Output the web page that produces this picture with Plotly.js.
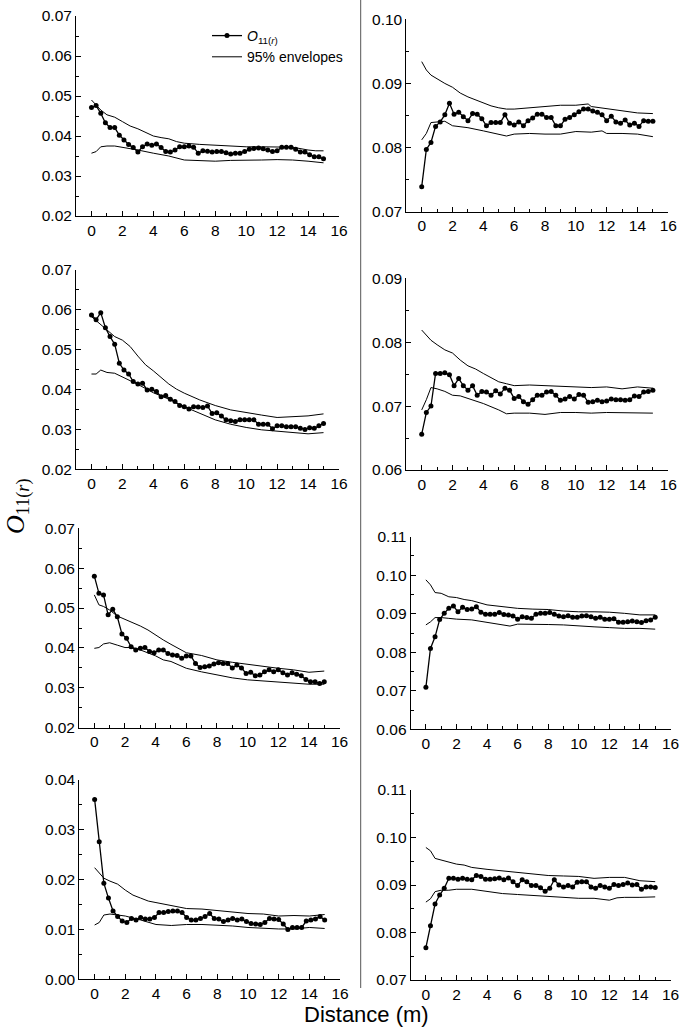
<!DOCTYPE html>
<html>
<head>
<meta charset="utf-8">
<script src="https://cdn.plot.ly/plotly-3.0.1.min.js"></script>
<style>
  html, body { margin: 0; padding: 0; background: #fff; }
  #chart { width: 680px; height: 1030px; }
</style>
</head>
<body>
<div id="chart"></div>
<script>
// ---------------- DATA ----------------
const distance = [0, 0.3, 0.6, 0.9, 1.2, 1.5, 1.8, 2.1, 2.4, 2.7, 3.0, 3.3, 3.6, 3.9, 4.2, 4.5, 4.8, 5.1, 5.4, 5.7,
  6.0, 6.3, 6.6, 6.9, 7.2, 7.5, 7.8, 8.1, 8.4, 8.7, 9.0, 9.3, 9.6, 9.9, 10.2, 10.5, 10.8, 11.1, 11.4, 11.7,
  12.0, 12.3, 12.6, 12.9, 13.2, 13.5, 13.8, 14.1, 14.4, 14.7, 15.0];

const xTickVals = [0, 2, 4, 6, 8, 10, 12, 14, 16];
const seriesName = '<i>O</i><sub>11(<i>r</i>)</sub>';
const envelopeName = '95% envelopes';

// Panel a (row 1, left)
const o11_a = [0.0471,0.0476,0.0457,0.0433,0.0421,0.0421,0.0402,0.0390,0.0379,0.0371,0.0360,0.0373,0.0380,0.0377,0.0380,0.0371,0.0361,0.0360,0.0365,0.0373,0.0373,0.0375,0.0372,0.0357,0.0363,0.0362,0.0360,0.0361,0.0361,0.0358,0.0355,0.0357,0.0357,0.0361,0.0367,0.0369,0.0370,0.0368,0.0365,0.0361,0.0363,0.0372,0.0372,0.0372,0.0367,0.0360,0.0360,0.0353,0.0348,0.0348,0.0343];
const upX_a = [0,0.6,1,1.5,2,2.5,3,3.5,4,4.5,5,5.5,6,7,8,9,10,11,12,13,14,14.5,15];
const up_a  = [0.0490,0.0465,0.0453,0.0447,0.0436,0.0425,0.0418,0.0410,0.0400,0.0396,0.0393,0.0386,0.0382,0.0379,0.0377,0.0376,0.0373,0.0373,0.0373,0.0372,0.0365,0.0363,0.0363];
const loX_a = [0,0.3,0.6,1,1.5,2,3,4,5,6,7,8,9,10,11,12,13,14,15];
const lo_a  = [0.0357,0.0361,0.0373,0.0375,0.0375,0.0372,0.0365,0.0357,0.0350,0.0340,0.0338,0.0337,0.0339,0.0339,0.0340,0.0341,0.0340,0.0337,0.0333];

// Panel b (row 1, right)
const o11_b = [0.0739,0.0797,0.0808,0.0833,0.0840,0.0851,0.0869,0.0852,0.0855,0.0848,0.0842,0.0853,0.0852,0.0845,0.0834,0.0839,0.0839,0.0839,0.0851,0.0838,0.0835,0.0840,0.0834,0.0842,0.0846,0.0852,0.0852,0.0847,0.0847,0.0834,0.0834,0.0844,0.0847,0.0851,0.0856,0.0860,0.0860,0.0857,0.0855,0.0851,0.0842,0.0849,0.0840,0.0838,0.0843,0.0835,0.0838,0.0833,0.0842,0.0841,0.0841];
const upX_b = [0,0.3,0.6,1,1.5,2,2.5,3,3.5,4,4.5,5,5.5,6,7,8,9,10,10.8,11,12,13,14,15];
const up_b  = [0.0934,0.0921,0.0913,0.0907,0.0900,0.0894,0.0885,0.0879,0.0874,0.0870,0.0865,0.0862,0.0860,0.0860,0.0862,0.0864,0.0866,0.0866,0.0868,0.0864,0.0861,0.0857,0.0854,0.0853];
const loX_b = [0,0.3,0.6,1,1.5,2,2.5,3,4,5,5.5,6,7,8,9,10,11,11.7,12,13,14,15];
const lo_b  = [0.0812,0.0822,0.0839,0.0840,0.0841,0.0834,0.0833,0.0831,0.0826,0.0821,0.0818,0.0821,0.0822,0.0821,0.0821,0.0825,0.0824,0.0826,0.0822,0.0822,0.0821,0.0817];

// Panel c (row 2, left)
const o11_c = [0.0587,0.0575,0.0593,0.0555,0.0533,0.0514,0.0466,0.0449,0.0439,0.0420,0.0414,0.0416,0.0399,0.0401,0.0395,0.0382,0.0385,0.0376,0.0370,0.0360,0.0357,0.0351,0.0357,0.0356,0.0355,0.0359,0.0340,0.0342,0.0334,0.0324,0.0322,0.0320,0.0324,0.0324,0.0324,0.0324,0.0313,0.0313,0.0313,0.0302,0.0309,0.0309,0.0307,0.0307,0.0307,0.0303,0.0300,0.0304,0.0303,0.0309,0.0315];
const upX_c = [0,0.5,1,1.5,2,2.5,3,3.5,4,4.5,5,5.5,6,7,8,9,10,11,12,13,14,15];
const up_c  = [0.0583,0.0566,0.0549,0.0533,0.0524,0.0508,0.0484,0.0462,0.0447,0.0431,0.0414,0.0401,0.0391,0.0374,0.0360,0.0349,0.0342,0.0336,0.0330,0.0332,0.0334,0.0339];
const loX_c = [0,0.3,0.6,1,1.5,2,2.5,3,4,5,6,7,8,9,10,11,12,13,14,15];
const lo_c  = [0.0439,0.0439,0.0449,0.0443,0.0441,0.0432,0.0424,0.0413,0.0392,0.0376,0.0357,0.0340,0.0324,0.0313,0.0305,0.0299,0.0296,0.0292,0.0289,0.0292];

// Panel d (row 2, right)
const o11_d = [0.0656,0.0690,0.0700,0.0751,0.0751,0.0752,0.0749,0.0732,0.0743,0.0732,0.0725,0.0732,0.0717,0.0723,0.0722,0.0717,0.0724,0.0719,0.0728,0.0725,0.0712,0.0715,0.0707,0.0703,0.0710,0.0717,0.0717,0.0722,0.0723,0.0717,0.0709,0.0711,0.0715,0.0711,0.0718,0.0717,0.0706,0.0707,0.0709,0.0707,0.0708,0.0711,0.0710,0.0710,0.0709,0.0710,0.0716,0.0715,0.0722,0.0723,0.0725];
const upX_d = [0,0.3,0.6,1,1.5,2,2.5,3,3.5,4,4.5,5,5.5,6,7,8,9,10,11,12,13,14,15];
const up_d  = [0.0819,0.0811,0.0803,0.0796,0.0788,0.0783,0.0772,0.0763,0.0758,0.0751,0.0745,0.0738,0.0735,0.0732,0.0733,0.0732,0.0731,0.0730,0.0729,0.0730,0.0727,0.0730,0.0728];
const loX_d = [0,0.3,0.6,1,1.5,2,2.5,3,4,5,5.5,6,7,8,9,10,11,12,13,14,15];
const lo_d  = [0.0694,0.0710,0.0729,0.0727,0.0723,0.0717,0.0716,0.0712,0.0704,0.0694,0.0688,0.0689,0.0689,0.0687,0.0690,0.0690,0.0689,0.0690,0.0690,0.0690,0.0689];

// Panel e (row 3, left)
const o11_e = [0.0580,0.0537,0.0533,0.0483,0.0497,0.0478,0.0435,0.0424,0.0403,0.0395,0.0399,0.0401,0.0391,0.0388,0.0395,0.0395,0.0386,0.0382,0.0381,0.0374,0.0380,0.0380,0.0361,0.0351,0.0353,0.0355,0.0360,0.0363,0.0361,0.0361,0.0350,0.0357,0.0350,0.0336,0.0339,0.0330,0.0332,0.0340,0.0345,0.0340,0.0345,0.0338,0.0332,0.0338,0.0334,0.0330,0.0321,0.0315,0.0315,0.0311,0.0315];
const upX_e = [0,0.3,0.6,1,1.5,2,2.5,3,3.5,4,4.5,5,5.5,6,7,8,9,10,11,12,13,14,15];
const up_e  = [0.0533,0.0508,0.0504,0.0495,0.0480,0.0472,0.0462,0.0455,0.0445,0.0432,0.0420,0.0409,0.0399,0.0388,0.0381,0.0370,0.0364,0.0359,0.0353,0.0349,0.0345,0.0339,0.0342];
const loX_e = [0,0.3,0.6,1,1.5,2,2.5,3,4,4.5,5,6,7,8,9,10,11,12,13,14,15];
const lo_e  = [0.0399,0.0401,0.0410,0.0413,0.0407,0.0401,0.0401,0.0395,0.0380,0.0370,0.0366,0.0349,0.0340,0.0332,0.0325,0.0320,0.0317,0.0315,0.0311,0.0309,0.0309];

// Panel f (row 3, right)
const o11_f = [0.0709,0.0810,0.0840,0.0885,0.0901,0.0914,0.0920,0.0905,0.0917,0.0911,0.0912,0.0918,0.0904,0.0899,0.0899,0.0899,0.0903,0.0898,0.0897,0.0894,0.0886,0.0892,0.0890,0.0888,0.0899,0.0901,0.0901,0.0903,0.0899,0.0894,0.0892,0.0895,0.0891,0.0891,0.0894,0.0895,0.0892,0.0888,0.0891,0.0886,0.0886,0.0887,0.0878,0.0878,0.0879,0.0881,0.0879,0.0877,0.0882,0.0884,0.0891];
const upX_f = [0,0.3,0.6,1,1.5,2,2.5,3,4,5,6,7,8,9,10,11,12,13,14,15];
const up_f  = [0.0988,0.0975,0.0955,0.0953,0.0944,0.0942,0.0937,0.0934,0.0923,0.0918,0.0914,0.0912,0.0911,0.0907,0.0905,0.0905,0.0904,0.0901,0.0897,0.0897];
const loX_f = [0,0.3,0.6,1,1.5,2,3,4,5,5.5,6,7,8,9,10,11,12,13,14,15];
const lo_f  = [0.0871,0.0879,0.0890,0.0890,0.0888,0.0886,0.0884,0.0878,0.0871,0.0868,0.0873,0.0873,0.0872,0.0871,0.0868,0.0866,0.0864,0.0862,0.0862,0.0860];

// Panel g (row 4, left)
const o11_g = [0.0361,0.0276,0.0193,0.0163,0.0137,0.0126,0.0117,0.0114,0.0122,0.0119,0.0124,0.0121,0.0121,0.0124,0.0134,0.0134,0.0136,0.0137,0.0137,0.0134,0.0124,0.0119,0.0119,0.0122,0.0126,0.0132,0.0122,0.0121,0.0116,0.0119,0.0122,0.0119,0.0121,0.0116,0.0112,0.0111,0.0110,0.0114,0.0122,0.0121,0.0120,0.0111,0.0100,0.0104,0.0104,0.0104,0.0117,0.0119,0.0121,0.0126,0.0119];
const upX_g = [0,0.3,0.6,1,1.5,2,2.5,3,3.5,4,5,6,7,8,9,10,11,12,13,14,15];
const up_g  = [0.0224,0.0213,0.0203,0.0197,0.0191,0.0179,0.0169,0.0163,0.0157,0.0154,0.0148,0.0142,0.0141,0.0138,0.0136,0.0132,0.0131,0.0127,0.0128,0.0127,0.0130];
const loX_g = [0,0.3,0.6,1,1.5,2,3,4,5,6,7,8,9,10,11,12,13,14,15];
const lo_g  = [0.0109,0.0114,0.0129,0.0131,0.0129,0.0127,0.0119,0.0110,0.0108,0.0110,0.0110,0.0109,0.0107,0.0104,0.0102,0.0101,0.0101,0.0104,0.0102];

// Panel h (row 4, right)
const o11_h = [0.0768,0.0814,0.0860,0.0879,0.0893,0.0914,0.0914,0.0912,0.0914,0.0912,0.0911,0.0920,0.0918,0.0912,0.0912,0.0913,0.0915,0.0911,0.0915,0.0907,0.0899,0.0911,0.0907,0.0899,0.0899,0.0894,0.0887,0.0893,0.0911,0.0900,0.0896,0.0899,0.0896,0.0906,0.0907,0.0907,0.0896,0.0893,0.0899,0.0896,0.0893,0.0901,0.0899,0.0901,0.0904,0.0900,0.0901,0.0891,0.0896,0.0896,0.0895];
const upX_h = [0,0.3,0.6,1,1.5,2,2.5,3,4,5,6,7,8,9,10,11,12,13,14,15];
const up_h  = [0.0979,0.0972,0.0956,0.0953,0.0949,0.0944,0.0942,0.0937,0.0933,0.0930,0.0927,0.0923,0.0920,0.0919,0.0918,0.0914,0.0916,0.0916,0.0909,0.0907];
const loX_h = [0,0.3,0.6,1,1.5,2,3,4,5,6,7,8,9,10,11,12,12.5,13,14,15];
const lo_h  = [0.0864,0.0871,0.0886,0.0889,0.0889,0.0891,0.0891,0.0886,0.0882,0.0880,0.0878,0.0875,0.0874,0.0872,0.0872,0.0868,0.0873,0.0874,0.0874,0.0875];

// y-axis ranges of the panels
const yRange_a = [0.02, 0.07], yRange_b = [0.07, 0.10];
const yRange_c = [0.02, 0.07], yRange_d = [0.06, 0.09];
const yRange_e = [0.02, 0.07], yRange_f = [0.06, 0.11];
const yRange_g = [0.00, 0.04], yRange_h = [0.07, 0.11];

// ---------------- LAYOUT GEOMETRY (pixels) ----------------
const W = 680, H = 1030;
// [left, right, top, bottom] in px
const boxes = [
  [76, 339, 16, 216],          // a
  [406.3, 668.3, 19.3, 211.7], // b
  [76, 339, 270, 469.3],       // c
  [406.3, 668.3, 278.3, 470],  // d
  [79, 339.6, 528.3, 727.7],   // e
  [410.6, 670.5, 536.7, 729.3],// f
  [79.3, 340, 780, 979.3],     // g
  [410.6, 670.5, 790, 980]     // h
];

const panels = [
  {o: o11_a, ux: upX_a, u: up_a, lx: loX_a, l: lo_a, yr: yRange_a},
  {o: o11_b, ux: upX_b, u: up_b, lx: loX_b, l: lo_b, yr: yRange_b},
  {o: o11_c, ux: upX_c, u: up_c, lx: loX_c, l: lo_c, yr: yRange_c},
  {o: o11_d, ux: upX_d, u: up_d, lx: loX_d, l: lo_d, yr: yRange_d},
  {o: o11_e, ux: upX_e, u: up_e, lx: loX_e, l: lo_e, yr: yRange_e},
  {o: o11_f, ux: upX_f, u: up_f, lx: loX_f, l: lo_f, yr: yRange_f},
  {o: o11_g, ux: upX_g, u: up_g, lx: loX_g, l: lo_g, yr: yRange_g},
  {o: o11_h, ux: upX_h, u: up_h, lx: loX_h, l: lo_h, yr: yRange_h}
];

const FONT = 'Liberation Sans, Arial, Helvetica, sans-serif';
const traces = [];
const layout = {
  width: W, height: H,
  margin: {l: 0, r: 0, t: 0, b: 0},
  paper_bgcolor: '#ffffff',
  plot_bgcolor: 'rgba(0,0,0,0)',
  font: {family: FONT, size: 15.5, color: '#000'},
  showlegend: true,
  legend: {
    x: 207 / W, y: 1 - 20 / H, xanchor: 'left', yanchor: 'top',
    bgcolor: 'rgba(0,0,0,0)', borderwidth: 0,
    font: {family: FONT, size: 14, color: '#000'},
    tracegroupgap: 0, itemwidth: 30
  },
  shapes: [],
  annotations: []
};

panels.forEach((p, i) => {
  const k = i === 0 ? '' : String(i + 1);
  const xa = 'x' + k, ya = 'y' + k;
  const b = boxes[i];
  traces.push({
    x: distance, y: p.o, xaxis: xa, yaxis: ya, type: 'scatter', mode: 'lines+markers',
    line: {color: '#000', width: 1.3}, marker: {color: '#000', size: 5},
    name: seriesName, showlegend: i === 0, legendgroup: 'o11', cliponaxis: false
  });
  traces.push({
    x: p.ux, y: p.u, xaxis: xa, yaxis: ya, type: 'scatter', mode: 'lines',
    line: {color: '#000', width: 1}, name: envelopeName, showlegend: i === 0, legendgroup: 'env'
  });
  traces.push({
    x: p.lx, y: p.l, xaxis: xa, yaxis: ya, type: 'scatter', mode: 'lines',
    line: {color: '#000', width: 1}, name: envelopeName, showlegend: false, legendgroup: 'env'
  });
  const common = {
    showline: true, linecolor: '#000', linewidth: 1, mirror: false,
    showgrid: false, zeroline: false,
    ticks: 'inside', ticklen: 5, tickwidth: 1, tickcolor: '#000',
    tickfont: {family: FONT, size: 15.5, color: '#000'},
    fixedrange: true
  };
  layout['xaxis' + k] = Object.assign({}, common, {
    domain: [b[0] / W, b[1] / W], anchor: ya, range: [-1, 16],
    tickmode: 'array', tickvals: xTickVals, ticktext: xTickVals.map(String),
    minor: {ticks: 'inside', ticklen: 3, tickwidth: 1, tickcolor: '#000', dtick: 1, tick0: 0, showgrid: false}
  });
  layout['yaxis' + k] = Object.assign({}, common, {
    domain: [1 - b[3] / H, 1 - b[2] / H], anchor: xa, range: p.yr,
    dtick: 0.01, tick0: 0, tickformat: '.2f',
    minor: {ticks: 'inside', ticklen: 3, tickwidth: 1, tickcolor: '#000', dtick: 0.005, tick0: 0, showgrid: false}
  });
});

// column divider
layout.shapes.push({
  type: 'line', xref: 'paper', yref: 'paper',
  x0: 360.7 / W, x1: 360.7 / W, y0: 1, y1: 1 - 988 / H,
  line: {color: '#555', width: 1}
});

// shared axis titles
layout.annotations.push({
  xref: 'paper', yref: 'paper', x: 366 / W, y: 1 - 1014 / H,
  xanchor: 'center', yanchor: 'middle', showarrow: false,
  text: 'Distance (m)', font: {family: FONT, size: 22, color: '#000'}
});
layout.annotations.push({
  xref: 'paper', yref: 'paper', x: 17 / W, y: 1 - 506 / H,
  xanchor: 'center', yanchor: 'middle', showarrow: false, textangle: -90,
  text: '<i>O</i><sub>11(<i>r</i>)</sub>',
  font: {family: 'Liberation Serif, Times New Roman, serif', size: 26, color: '#000'}
});

Plotly.newPlot('chart', traces, layout, {displayModeBar: false, staticPlot: true});
</script>
</body>
</html>
